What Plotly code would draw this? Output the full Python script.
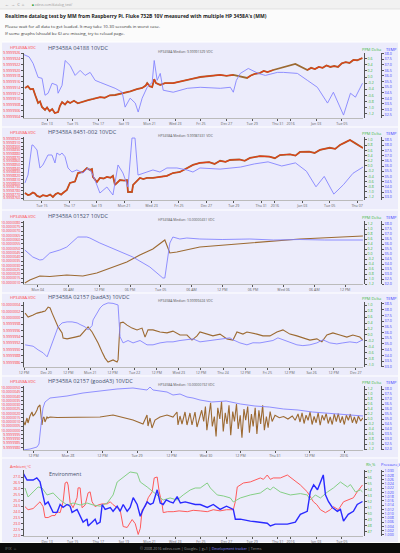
import math
import plotly.graph_objects as go

# ---------------- Panel 1: HP3458A 04188 (x = days since Dec 11) ----------------
P1_VDC = [(0.28,-0.36),(0.5,-0.30),(0.7,-0.40),(0.91,-0.39),(1.1,-0.62),(1.3,-0.85),(1.45,-0.80),(1.6,-0.98),
          (1.84,-1.08),(2.0,-1.0),(2.2,-1.12),(2.4,-1.05),(2.6,-1.18),(2.86,-1.15),(3.0,-0.95),(3.17,-0.82),
          (3.4,-0.9),(3.6,-0.8),(3.8,-0.85),(4.1,-0.78),(4.4,-0.86),(4.8,-0.8),(5.2,-0.76),(5.6,-0.72),
          (6.14,-0.66),(6.5,-0.68),(6.9,-0.6),(7.31,-0.59),(7.7,-0.55),(8.09,-0.52),(8.5,-0.47),(9.0,-0.40),
          (9.42,-0.36),(9.7,-0.28),(9.81,-0.20),(10.0,-0.30),(10.2,-0.33),(10.36,-0.07),(10.5,-0.2),(10.83,-0.26),
          (11.2,-0.2),(11.84,-0.20),(12.3,-0.15),(12.94,-0.10),(13.4,-0.05),(13.95,0.0),(14.5,0.02),(15.0,0.05),
          (15.5,0.07),(16.0,0.04),(16.53,0.07),(17.6,-0.03),(17.9,0.05),(18.2,0.1),(18.6,0.13),(18.9,0.2),
          (19.2,0.16),(19.65,0.23),(21.37,0.43),(22.31,0.23),(22.6,0.3),(22.9,0.26),(23.2,0.33),(23.5,0.3),
          (23.8,0.38),(24.1,0.33),(24.4,0.36),(24.7,0.33),(25.0,0.45),(25.3,0.49),(25.6,0.46),(25.9,0.56),
          (26.2,0.55),(26.6,0.62)]
P1_TEMP = [(0.2,37.9),(0.6,37.7),(0.91,37.12),(1.3,35.88),(1.61,35.79),(1.84,34.28),(2.08,34.46),(2.39,35.35),
           (2.78,35.17),(2.86,34.46),(3.17,35.17),(3.41,37.38),(3.8,36.94),(4.19,36.05),(4.58,36.5),(4.97,36.05),
           (5.36,36.32),(5.75,35.61),(6.14,35.43),(6.69,35.17),(7.31,34.9),(7.86,34.55),(8.09,33.22),(8.48,34.02),
           (8.88,33.58),(9.11,32.78),(9.42,34.02),(9.81,34.99),(10.2,35.43),(10.36,37.38),(10.59,35.61),(10.83,36.23),
           (11.06,34.73),(11.84,34.55),(12.94,34.9),(13.95,34.99),(15.52,34.9),(16.3,34.99),(16.53,34.55),(16.77,35.61),
           (17.08,36.23),(17.7,36.67),(18.48,36.23),(19.03,36.05),(19.97,36.32),(20.44,36.32),(21.53,36.23),(22.31,35.61),
           (23.09,34.99),(23.88,33.58),(24.34,34.55),(25.13,32.51),(25.67,34.46),(26.06,34.11),(26.61,35.35)]

# ---------------- Panel 2: HP3458A 8451-002 (x = days since Dec 13) ----------------
P2_VDC = [(0.76,-1.04),(0.98,-1.12),(1.12,-1.1),(1.34,-1.02),(1.49,-1.06),(1.64,-1.15),(1.85,-1.19),(2.07,-1.12),
          (2.36,-1.16),(2.6,-1.1),(2.8,-1.19),(3.0,-1.08),(3.17,-1.04),(3.4,-1.1),(3.53,-1.04),(3.82,-0.92),
          (4.04,-0.65),(4.41,-0.6),(4.63,-0.27),(4.99,-0.23),(5.28,-0.08),(5.5,-0.15),(5.65,-0.12),(5.72,-0.42),
          (6.01,-0.62),(6.23,-0.46),(6.5,-0.48),(6.74,-0.42),(7.0,-0.45),(7.18,-0.38),(7.33,-0.73),(7.69,-0.54),
          (8.0,-0.56),(8.2,-0.54),(8.28,-1.0),(8.57,-1.0),(8.65,-0.73),(9.15,-0.46),(9.4,-0.5),(9.66,-0.46),
          (10.1,-0.46),(10.4,-0.42),(10.61,-0.42),(11.12,-0.38),(11.56,-0.27),(12.07,-0.23),(12.58,-0.08),(13.02,0.04),
          (13.53,0.12),(14.2,0.15),(14.6,0.08),(15.0,0.2),(15.4,0.16),(15.72,0.23),(16.4,0.25),(16.8,0.2),
          (17.18,0.31),(17.91,0.38),(18.6,0.36),(19.0,0.3),(19.37,0.42),(20.1,0.45),(20.5,0.4),(20.83,0.54),
          (21.5,0.55),(21.9,0.5),(22.29,0.62),(23.0,0.7),(23.4,0.66),(23.75,0.81),(24.1,0.9),(24.48,1.0),
          (24.85,0.88),(25.43,0.69)]
P2_TEMP = [(0.76,34.37),(0.98,35.13),(1.27,38.02),(1.34,38.02),(1.64,37.54),(1.85,35.81),(2.07,36.1),(2.44,37.06),
           (2.73,37.06),(2.95,36.29),(3.09,37.25),(3.31,37.06),(3.46,37.25),(3.68,36.9),(3.9,35.81),(4.19,35.42),
           (4.55,35.62),(4.99,35.33),(5.36,35.81),(5.65,35.33),(5.87,34.65),(6.23,33.4),(6.74,33.98),(7.18,33.21),
           (7.55,36.1),(7.91,35.33),(8.28,33.98),(8.57,38.69),(8.79,38.69),(9.01,35.13),(9.66,35.42),(10.1,35.62),
           (10.61,35.42),(11.12,35.81),(11.85,35.81),(12.58,35.62),(13.02,35.42),(13.53,35.81),(15.0,35.7),(16.5,35.9),
           (17.5,36.2),(18.5,36.4),(19.5,36.0),(20.5,36.3),(21.3,35.5),(22.0,34.0),(22.6,35.0),(23.3,33.3),
           (24.0,34.2),(24.7,35.3),(25.43,35.9)]

# ---------------- Panel 3: HP3458A 01527 (x = hours since Mon Jan 04) ----------------
P3_VDC = [(-2.54,-1.16),(-1.56,-1.04),(0.39,-0.88),(2.34,-0.9),(5.66,-0.84),(8.79,-0.88),(11.52,-0.76),
          (14.06,-0.56),(17.38,-0.32),(19.92,-0.04),(22.46,0.2),(24.8,0.56),(25.78,0.04),(27.15,0.08),
          (29.1,0.16),(31.64,0.28),(41.4,0.44),(51.17,0.6),(63.48,0.72)]
P3_TEMP = [(-2.54,35.4),(-0.98,34.7),(0.39,34.4),(0.98,34.45),(2.34,35.1),(4.3,35.4),(5.66,35.7),(6.84,36.2),
           (7.81,36.7),(9.57,36.7),(10.16,36.6),(12.11,36.1),(15.43,35.4),(18.55,34.7),(21.88,33.7),(24.41,32.6),
           (24.8,32.6),(25.78,36.1),(26.37,36.7),(27.73,36.5),(29.1,36.6),(31.64,36.5),(36.0,36.45),(41.4,36.5),
           (46.0,36.4),(51.17,36.45),(56.0,36.4),(63.48,36.4)]

# ---------------- Panel 4: HP3458A 02157 badA3 (x = hours since Dec 20) ----------------
P4_VDC = [(-11.4,0.73),(-9.76,0.6),(-7.05,0.67),(-4.88,0.73),(-2.17,0.77),(-0.54,0.8),(1.08,0.93),(2.17,0.9),
          (3.25,0.73),(4.88,0.5),(6.5,0.27),(8.67,0.07),(9.21,-0.1),(11.38,-0.13),(13.0,-0.1),(15.72,-0.07),
          (18.43,-0.03),(20.05,0.07),(21.14,0.17),(22.76,0.27),(24.93,0.1),(26.56,-0.07),(28.18,-0.27),(30.35,-0.57),
          (31.98,-0.77),(33.6,-0.9),(36.31,-0.83),(38.48,-0.9),(39.02,-0.83),(40.11,0.4),(41.73,0.43),(43.9,0.33),
          (46.61,0.23),(49.32,0.17),(52.03,0.23),(53.66,-0.07),(55.28,0.17),(57.99,0.17),(61.79,0.1),(65.58,0.07),
          (68.83,0.13),(72.63,0.0),(76.42,0.0),(79.13,-0.17),(81.84,-0.03),(83.47,0.1),(87.26,0.03),(90.51,-0.03),
          (94.31,0.03),(98.1,-0.13),(101.36,-0.17),(103.52,0.1),(106.78,0.03),(108.94,0.1),(114.36,0.03),(117.62,-0.03),
          (121.41,-0.03),(125.2,0.1),(128.46,0.17),(132.25,0.03),(136.04,-0.03),(139.3,-0.1),(143.09,-0.17),(146.88,-0.13),
          (149.59,-0.23),(152.3,0.0),(155.56,0.07),(159.35,0.0),(163.14,-0.07),(166.4,0.0),(170.19,-0.07),(171.82,-0.17)]
P4_TEMP = [(-11.4,34.92),(-7.05,34.8),(-4.34,34.48),(-1.63,34.22),(0.54,33.87),(2.17,34.6),(3.79,35.36),(6.5,36.49),
           (8.67,36.84),(11.38,36.93),(14.09,36.93),(16.8,36.84),(18.43,36.7),(21.14,36.49),(22.76,36.23),(24.93,36.6),
           (25.47,37.1),(27.64,37.71),(29.27,38.15),(30.89,38.41),(33.6,38.59),(36.31,38.55),(39.02,38.41),(40.11,35.62),
           (41.73,35.09),(44.44,35.3),(47.15,35.09),(50.95,35.3),(54.74,34.92),(57.99,34.92),(61.79,35.09),(65.58,35.18),
           (68.83,35.18),(72.63,35.3),(76.42,35.36),(79.67,35.44),(83.47,35.18),(88.89,35.3),(94.31,35.44),(99.73,35.53),
           (101.36,35.36),(105.15,35.09),(108.94,34.92),(112.2,35.1),(115.99,35.09),(119.78,35.18),(123.04,35.3),(125.75,35.53),
           (128.46,35.36),(132.25,35.09),(136.04,34.92),(139.3,34.85),(143.09,34.92),(146.88,35.09),(150.14,35.36),(153.93,35.09),
           (157.72,35.0),(160.98,35.09),(164.77,35.18),(168.56,35.1),(171.82,35.36)]

# ---------------- Panel 5: HP3458A 02157 goodA3 (x = hours since Dec 28) ----------------
P5_VDC = [(-15.65,-0.04),(-14.96,-0.24),(-14.26,0.04),(-13.91,-0.16),(-13.22,0.12),(-12.52,0.28),(-12.17,0.12),
          (-11.48,0.2),(-10.78,0.36),(-10.43,0.48),(-9.74,0.56),(-9.39,0.16),(-9.04,-0.24),(-8.7,0.04),(-8.35,0.08),
          (-8.0,-0.12),(-7.3,0.08),(-6.96,0.04),(-6.26,0.08),(-3.83,0.06),(-0.35,0.07),(5.22,0.07),(11.13,0.08),
          (15.65,0.16),(18.09,0.08),(22.61,-0.04),(26.09,-0.2),(27.48,0.16),(27.83,-0.28),(28.52,0.04),(29.22,-0.36),
          (30.26,-0.04),(32.0,0.08),(34.43,0.16),(36.52,0.08),(37.91,0.28),(38.26,-0.24),(38.96,0.12),(39.65,-0.2),
          (40.7,0.28),(41.39,-0.24),(42.43,0.24),(43.13,-0.24),(44.17,0.28),(44.87,-0.32),(45.91,0.12),
          (46.5,0.35),(47.2,-0.1),(47.8,0.5),(48.3,-0.45),(49.0,0.2),(49.6,0.65),(50.2,-0.3),(50.9,0.1),
          (51.5,-0.7),(52.1,0.45),(52.8,0.0),(53.4,0.7),(54.0,-0.5),(54.7,0.25),(55.3,-0.2),(56.0,0.55),
          (56.6,-0.65),(57.3,0.3),(57.9,-0.1),(58.6,0.6),(59.2,-0.4),(59.9,0.15),(60.5,-0.75),(61.2,0.4),
          (61.8,-0.05),(62.5,0.5),(63.1,-0.55),(63.8,0.2),(64.4,-0.3),(65.1,0.45),(65.7,-0.6),(66.4,0.35),
          (67.0,-0.2),(67.7,0.55),(68.3,-0.45),(69.0,0.1),(69.6,-0.35),(70.3,0.3),(71.0,-0.1),(72.0,0.15),
          (73.5,0.05),(75.0,0.1),(76.5,0.0),(78.0,0.12),(79.0,-0.05),(80.0,0.2),(80.7,-0.12),(81.4,0.25),
          (82.1,-0.18),(82.8,0.15),(83.5,-0.05),(84.2,0.28),(84.9,-0.22),(85.6,0.1),(86.3,-0.15),(87.0,0.25),
          (87.7,-0.25),(88.4,0.15),(89.1,-0.05),(89.8,0.22),(90.5,-0.18),(91.2,0.08),(91.9,-0.22),(92.6,0.2),
          (93.3,-0.1),(94.0,0.22),(94.7,-0.15),(95.4,0.1),(96.1,-0.22),(96.8,0.15),(97.5,-0.05),(98.2,0.2),
          (98.9,-0.15),(99.6,0.08),(100.3,-0.18),(101.0,0.12),(101.8,-0.08),(102.6,0.05)]
P5_TEMP = [(-15.65,31.9),(-13.22,32.0),(-10.78,32.2),(-10.09,32.5),(-9.39,34.4),(-8.7,36.1),(-8.0,36.7),(-6.96,37.0),
           (-6.26,37.1),(-0.35,37.3),(5.22,37.6),(11.13,37.8),(17.04,38.0),(22.61,38.1),(27.48,37.9),(28.52,38.2),
           (29.57,37.9),(32.0,37.8),(34.43,37.7),(36.52,37.4),(38.96,37.5),(41.39,37.2),(43.48,37.1),(45.91,36.9),
           (50.0,36.7),(55.0,36.8),(60.0,36.5),(65.0,36.3),(70.0,36.2),(75.0,36.0),(80.0,35.9),(85.0,35.7),
           (90.0,35.6),(95.0,35.5),(100.0,35.4),(102.6,35.3)]

# ---------------- Panel 6: Environment (x = days since Dec 11) ----------------
ENV_AMBIENT = [(0.28,24.46),(0.52,24.2),(0.91,24.3),(1.2,24.63),(1.45,24.88),(1.69,24.46),(1.84,23.53),(2.08,23.53),
               (2.39,23.7),(2.62,23.7),(2.78,24.03),(3.02,23.95),(3.25,24.88),(3.41,26.49),(3.56,26.58),(3.64,26.32),
               (3.8,24.8),(4.03,24.37),(4.34,25.22),(4.42,26.07),(4.58,26.07),(4.73,24.37),(4.97,24.6),(5.2,25.64),
               (5.36,25.73),(5.51,24.88),(5.75,24.46),(5.98,24.6),(6.3,24.7),(6.69,24.7),(6.93,24.88),(7.15,24.63),
               (7.47,24.37),(7.7,24.2),(7.94,22.76),(8.25,22.68),(8.64,23.36),(8.88,23.0),(9.11,22.08),(9.27,22.6),
               (9.42,24.2),(9.66,24.46),(9.89,25.22),(10.2,25.73),(10.36,26.92),(10.59,27.0),(10.75,25.73),(10.98,24.63),
               (11.06,23.95),(11.4,24.03),(11.84,24.03),(12.3,24.1),(12.94,24.03),(13.4,24.15),(13.95,24.1),(14.5,24.03),
               (14.97,24.2),(15.5,24.1),(16.0,24.2),(16.53,24.2),(16.69,24.9),(16.84,26.15),(17.32,26.49),(17.86,26.58),
               (18.64,26.92),(18.88,26.8),(19.18,27.17),(19.42,26.8),(19.65,26.92),(20.2,26.92),(20.75,27.17),(21.22,26.8),
               (21.76,26.32),(22.3,25.73),(22.78,24.88),(23.05,24.63),(23.33,24.2),(23.72,23.95),(24.1,24.2),(24.34,24.46),
               (24.73,24.2),(25.13,24.88),(25.5,25.05),(25.9,25.22),(26.2,25.73),(26.61,26.32)]
ENV_RH = [(0.28,54.33),(0.52,52.83),(0.91,53.67),(1.3,54.5),(1.61,54.33),(2.0,53.17),(2.47,53.5),(3.02,52.33),
          (3.56,51.5),(4.03,51.83),(4.58,51.5),(5.12,51.83),(5.59,51.5),(6.14,51.3),(6.69,51.83),(7.15,53.17),
          (7.47,55.33),(7.94,56.17),(8.48,57.0),(9.03,56.8),(9.27,55.33),(9.81,54.5),(10.28,53.67),(10.83,52.67),
          (11.06,52.33),(11.6,52.67),(12.15,52.33),(12.62,53.17),(13.17,54.0),(13.56,54.33),(13.95,54.33),(14.5,55.17),
          (14.74,54.33),(15.28,53.17),(15.76,53.0),(16.3,52.67),(16.53,52.0),(17.08,52.67),(17.86,53.17),(18.64,53.5),
          (19.18,54.33),(19.42,54.0),(19.65,54.5),(20.2,53.67),(20.98,53.17),(21.76,53.4),(22.3,53.17),(22.54,52.33),
          (22.93,53.17),(23.33,52.67),(23.88,53.67),(24.34,54.33),(24.89,55.33),(25.44,54.5),(25.67,54.9),(26.06,53.67),
          (26.45,54.0),(26.61,53.67)]
ENV_PRESSURE = [(0.12,1.0291),(0.44,1.0258),(0.91,1.0258),(1.2,1.0268),(1.45,1.0249),(1.61,1.0203),(1.84,1.0143),
                (2.08,1.0155),(2.47,1.0106),(2.78,1.0106),(3.02,1.0143),(3.25,1.0130),(3.56,1.0143),(3.8,1.0135),
                (3.95,1.0106),(4.34,1.0120),(4.58,1.0088),(4.81,1.006),(5.12,1.0075),(5.2,1.0042),(5.51,1.006),
                (5.75,1.0074),(5.9,1.0051),(6.14,1.006),(6.3,1.0143),(6.53,1.0120),(6.93,1.0129),(7.15,1.0111),
                (7.47,1.0135),(7.7,1.0111),(7.94,1.0143),(8.25,1.0111),(8.48,1.0129),(8.72,1.0175),(9.03,1.0143),
                (9.27,1.0088),(9.5,1.0120),(9.81,1.0155),(10.05,1.0143),(10.28,1.0150),(10.59,1.0212),(10.83,1.0150),
                (11.06,1.0143),(11.3,1.0165),(11.6,1.0155),(11.84,1.0150),(12.15,1.0180),(12.4,1.0150),(12.78,1.0155),
                (13.17,1.0150),(13.56,1.0143),(13.95,1.0143),(14.5,1.0129),(14.97,1.0143),(15.5,1.0120),(16.0,1.0135),
                (16.53,1.0120),(16.69,1.0074),(17.08,1.0074),(17.86,1.0065),(18.64,1.006),(19.18,1.0055),(19.42,1.0042),
                (19.8,1.0051),(20.75,1.0051),(21.37,1.006),(21.76,1.0097),(22.3,1.0111),(22.54,1.0203),(22.8,1.0235),
                (23.1,1.0212),(23.33,1.0249),(23.55,1.0282),(23.72,1.0189),(23.95,1.0157),(24.26,1.0129),(24.65,1.0111),
                (24.89,1.0120),(25.13,1.0065),(25.5,1.0097),(25.9,1.0111),(26.2,1.0143),(26.61,1.0157)]

# ---------------- tick labels ----------------
DAY_TICKS_A = [2, 4, 6, 8, 10, 12, 14, 16, 18, 20, 21, 23, 25]
DAY_TEXT_A = ['Dec 13', 'Tue 15', 'Thu 17', 'Sat 19', 'Mon 21', 'Wed 23', 'Fri 25', 'Dec 27', 'Tue 29',
              'Thu 31', '2016', 'Jan 03', 'Tue 05']
DAY_TICKS_B = [2, 4, 6, 8, 10, 12, 14, 16, 18, 19, 21, 23, 25]
DAY_TEXT_B = ['Tue 15', 'Thu 17', 'Sat 19', 'Mon 21', 'Wed 23', 'Fri 25', 'Dec 27', 'Tue 29', 'Thu 31',
              '2016', 'Jan 03', 'Tue 05', 'Thu 07']
HOUR_TICKS_3 = [0, 6, 12, 18, 24, 30, 36, 42, 48, 54, 60]
HOUR_TEXT_3 = ['Mon 04', '06 AM', '12 PM', '06 PM', 'Tue 05', '06 AM', '12 PM', '06 PM', 'Wed 06', '06 AM', '12 PM']
HOUR_TICKS_4 = [-12, 0, 12, 24, 36, 48, 60, 72, 84, 96, 108, 120, 132, 144, 156, 168]
HOUR_TEXT_4 = ['12 PM', 'Dec 20', '12 PM', 'Mon 21', '12 PM', 'Tue 22', '12 PM', 'Wed 23', '12 PM', 'Thu 24',
               '12 PM', 'Fri 25', '12 PM', 'Sat 26', '12 PM', 'Dec 27']
HOUR_TICKS_5 = [-12, 0, 12, 24, 36, 48, 60, 72, 84, 96]
HOUR_TEXT_5 = ['12 PM', 'Mon 28', '12 PM', 'Tue 29', '12 PM', 'Wed 30', '12 PM', 'Thu 31', '12 PM', '2016']

# ---------------- geometry helpers ----------------
W, H = 400, 553
FONT = 'Open Sans'
LAV = '#ececfb'
BROWN = '#9c6a32'
REDDOT = '#e0401a'
TEMPBLUE = '#8585ff'
LRED = '#ff3b3b'
GREEN = '#3cb83c'
BLUE = '#3a3aff'


def fx(px):
    return px / W


def fy(py):
    return 1 - py / H


def unzip(pts):
    return [p[0] for p in pts], [p[1] for p in pts]


def split_gaps(xs, ys, maxgap):
    ox, oy = [], []
    for i, (a, b) in enumerate(zip(xs, ys)):
        if i and a - xs[i - 1] > maxgap:
            ox.append(None)
            oy.append(None)
        ox.append(a)
        oy.append(b)
    return ox, oy


def ticks_in(rng, step, decimals, top=None):
    """Tick values/labels inside an axis range (works for sub-ppm steps near 10 V)."""
    lo, hi = rng
    if top is not None:
        hi = min(hi, top)
    k = math.ceil(lo / step - 1e-6)
    vals, texts = [], []
    while k * step <= hi + 1e-12:
        v = round(k * step, 10)
        vals.append(v)
        texts.append(f'{v:.{decimals}f}')
        k += 1
    return vals, texts


PANELS = [
    dict(box=(42, 127), plot=(53, 118), ttl_y=48, left='HP3458A.VDC', title='HP3458A 04188 10VDC',
         median='HP3458A Median: 9.99991329 VDC', xr=[0.2, 26.65], tv=DAY_TICKS_A, tt=DAY_TEXT_A,
         lr=[9.99999035, 9.9999926], ldt=2e-7, ldec=7, ltop=None, gr=[-1.344, 0.787], gdt=0.2, gdec=1,
         br=[32.25, 38.05], bdt=0.5, bdec=1, r1='PPM Delta', r2='TEMP', rt_y=50,
         series=[(P1_VDC, 'g', 'vdc'), (P1_TEMP, 'b', 'temp')], red=True, gap=0.9),
    dict(box=(127, 210), plot=(137, 200), ttl_y=132, left='HP3458A.VDC', title='HP3458A 8451-002 10VDC',
         median='HP3458A Median: 9.99987431 VDC', xr=[0.69, 25.43], tv=DAY_TICKS_B, tt=DAY_TEXT_B,
         lr=[9.9998755, 9.9998925], ldt=1e-6, ldec=7, ltop=None, gr=[-1.308, 1.115], gdt=0.2, gdec=1,
         br=[32.73, 38.79], bdt=0.5, bdec=1, r1='PPM Delta', r2='TEMP', rt_y=133.5,
         series=[(P2_VDC, 'g', 'vdc'), (P2_TEMP, 'b', 'temp')], red=True, gap=0.9),
    dict(box=(210, 293), plot=(221, 284), ttl_y=216, left='HP3458A.VDC', title='HP3458A 01527 10VDC',
         median='HP3458A Median: 10.00000431 VDC', xr=[-2.7, 63.5], tv=HOUR_TICKS_3, tt=HOUR_TEXT_3,
         lr=[10.0000008, 10.0000082], ldt=5e-7, ldec=7, ltop=None, gr=[-1.2, 1.32], gdt=0.2, gdec=1,
         br=[32.0, 38.3], bdt=0.5, bdec=1, r1='PPM Delta', r2='TEMP', rt_y=217.5,
         series=[(P3_VDC, 'g', 'vdc'), (P3_TEMP, 'b', 'temp')], red=False, gap=0),
    dict(box=(293, 376), plot=(302, 367), ttl_y=297, left='HP3458A.VDC', title='HP3458A 02157 (badA3) 10VDC',
         median='HP3458A Median: 9.99999424 VDC', xr=[-12, 171.9], tv=HOUR_TICKS_4, tt=HOUR_TEXT_4,
         lr=[9.99999845, 10.0000005], ldt=2e-7, ldec=7, ltop=None, gr=[-1.067, 1.1], gdt=0.2, gdec=1,
         br=[32.98, 38.67], bdt=0.5, bdec=1, r1='PPM Delta', r2='TEMP', rt_y=298,
         series=[(P4_VDC, 'g', 'vdc'), (P4_TEMP, 'b', 'temp')], red=False, gap=0),
    dict(box=(376, 458), plot=(386, 450), ttl_y=381, left='HP3458A.VDC', title='HP3458A 02157 (goodA3) 10VDC',
         median='HP3458A Median: 10.00000192 VDC', xr=[-15.3, 102.6], tv=HOUR_TICKS_5, tt=HOUR_TEXT_5,
         lr=[9.9999977, 10.0000052], ldt=5e-7, ldec=7, ltop=None, gr=[-1.24, 1.32], gdt=0.2, gdec=1,
         br=[31.9, 38.3], bdt=0.5, bdec=1, r1='PPM Delta', r2='TEMP', rt_y=382.5,
         series=[(P5_VDC, 'g', 'vdc'), (P5_TEMP, 'b', 'temp')], red=False, gap=0),
    dict(box=(458, 542), plot=(470, 536), ttl_y=466, left='Ambient,°C', title='',
         median='', xr=[0.2, 26.65], tv=DAY_TICKS_A, tt=DAY_TEXT_A,
         lr=[21.95, 27.6], ldt=0.5, ldec=1, ltop=27.0, gr=[46.33, 57.33], gdt=1, gdec=0,
         br=[0.9995, 1.0305], bdt=0.002, bdec=3, r1='Rh,%', r2='Pressure,k', rt_y=464,
         series=[(ENV_RH, 'g', 'rh'), (ENV_AMBIENT, 'l', 'amb'), (ENV_PRESSURE, 'b', 'press')], red=False, gap=0),
]

fig = go.Figure()
layout = dict(width=W, height=H, margin=dict(l=0, r=0, t=0, b=0), paper_bgcolor='#fbfbfb',
              plot_bgcolor='rgba(0,0,0,0)', showlegend=False, font=dict(family=FONT, size=5, color='#444'))
shapes, annotations = [], []

XD = [fx(24), fx(363)]
TICKFONT = 3.6


def yn(n):
    return 'y' if n == 1 else f'y{n}'


def yk(n):
    return 'yaxis' if n == 1 else f'yaxis{n}'


for k, p in enumerate(PANELS, start=1):
    n1, n2, n3 = 3 * k - 2, 3 * k - 1, 3 * k
    xname = 'x' if k == 1 else f'x{k}'
    yd = [fy(p['plot'][1]), fy(p['plot'][0])]
    base = dict(showgrid=False, zeroline=False, ticks='outside', ticklen=2, tickwidth=0.6,
                tickcolor='#555', showline=True, linewidth=0.8, linecolor='#555', fixedrange=True,
                automargin=False)
    layout['xaxis' if k == 1 else f'xaxis{k}'] = dict(
        base, domain=XD, anchor=yn(n1), range=p['xr'], tickmode='array', tickvals=p['tv'], ticktext=p['tt'],
        tickfont=dict(size=TICKFONT, color='#666'), linecolor='#bbb', linewidth=0.6)
    lv, lt = ticks_in(p['lr'], p['ldt'], p['ldec'], p['ltop'])
    gv, gt = ticks_in(p['gr'], p['gdt'], p['gdec'])
    bv, bt = ticks_in(p['br'], p['bdt'], p['bdec'])
    layout[yk(n1)] = dict(
        base, domain=yd, anchor=xname, side='left', range=p['lr'], tickmode='array', tickvals=lv, ticktext=lt,
        tickfont=dict(size=TICKFONT, color=LRED))
    layout[yk(n2)] = dict(
        base, domain=yd, overlaying=yn(n1), anchor='free', position=fx(364), side='right', range=p['gr'],
        tickmode='array', tickvals=gv, ticktext=gt, tickfont=dict(size=TICKFONT, color=GREEN))
    layout[yk(n3)] = dict(
        base, domain=yd, overlaying=yn(n1), anchor='free', position=fx(381), side='right', range=p['br'],
        tickmode='array', tickvals=bv, ticktext=bt, tickfont=dict(size=TICKFONT, color=BLUE))

    # invisible anchor trace so the base (left-axis) subplot exists and its axes are drawn
    fig.add_trace(go.Scatter(x=[p['xr'][0]], y=[p['lr'][0]], xaxis=xname, yaxis=yn(n1), mode='markers',
                             marker=dict(size=1, opacity=0), hoverinfo='skip', showlegend=False))

    # panel background and separator
    shapes.append(dict(type='rect', xref='paper', yref='paper', x0=fx(2), x1=fx(398),
                       y0=fy(p['box'][1]), y1=fy(p['box'][0]), fillcolor=LAV, line=dict(width=0), layer='below'))
    shapes.append(dict(type='line', xref='paper', yref='paper', x0=fx(2), x1=fx(398),
                       y0=fy(p['box'][0]), y1=fy(p['box'][0]), line=dict(color='#ffffff', width=1.2),
                       layer='below'))

    for pts, which, kind in p['series']:
        xs, ys = unzip(pts)
        yref = yn(n2) if which == 'g' else (yn(n3) if which == 'b' else yn(n1))
        if kind == 'vdc':
            fig.add_trace(go.Scatter(x=xs, y=ys, xaxis=xname, yaxis=yref, mode='lines',
                                     line=dict(color=BROWN, width=1.8 if p['red'] else 1.1),
                                     hoverinfo='skip'))
            if p['red']:
                rx, ry = split_gaps(xs, ys, p['gap'])
                fig.add_trace(go.Scatter(x=rx, y=ry, xaxis=xname, yaxis=yref, mode='lines',
                                         line=dict(color=REDDOT, width=1.1), connectgaps=False,
                                         hoverinfo='skip'))
        elif kind == 'temp':
            fig.add_trace(go.Scatter(x=xs, y=ys, xaxis=xname, yaxis=yref, mode='lines',
                                     line=dict(color=TEMPBLUE, width=0.9), hoverinfo='skip'))
        elif kind == 'rh':
            fig.add_trace(go.Scatter(x=xs, y=ys, xaxis=xname, yaxis=yref, mode='lines',
                                     line=dict(color='#85cf85', width=1.0), hoverinfo='skip'))
        elif kind == 'amb':
            fig.add_trace(go.Scatter(x=xs, y=ys, xaxis=xname, yaxis=yref, mode='lines',
                                     line=dict(color='#ff5a5a', width=1.0), hoverinfo='skip'))
        elif kind == 'press':
            fig.add_trace(go.Scatter(x=xs, y=ys, xaxis=xname, yaxis=yref, mode='lines',
                                     line=dict(color='#2a2aff', width=1.4), hoverinfo='skip'))

    # panel texts
    annotations.append(dict(text=p['left'], x=fx(8), y=fy(p['ttl_y']), xref='paper', yref='paper',
                            xanchor='left', yanchor='middle', showarrow=False,
                            font=dict(size=4, color=LRED)))
    if p['title']:
        annotations.append(dict(text=p['title'], x=fx(46), y=fy(p['ttl_y']), xref='paper', yref='paper',
                                xanchor='left', yanchor='middle', showarrow=False,
                                font=dict(size=5.6, color='#44516e')))
    if p['median']:
        annotations.append(dict(text=p['median'], x=fx(156), y=fy(p['ttl_y'] + 3.5), xref='paper', yref='paper',
                                xanchor='left', yanchor='middle', showarrow=False,
                                font=dict(size=3.4, color='#555')))
    annotations.append(dict(text=p['r1'], x=fx(371), y=fy(p['rt_y']), xref='paper', yref='paper',
                            xanchor='center', yanchor='middle', showarrow=False,
                            font=dict(size=4.0, color=GREEN)))
    annotations.append(dict(text=p['r2'], x=fx(391), y=fy(p['rt_y']), xref='paper', yref='paper',
                            xanchor='center', yanchor='middle', showarrow=False,
                            font=dict(size=4.0, color=BLUE)))

# Environment label
annotations.append(dict(text='Environment', x=fx(47), y=fy(474), xref='paper', yref='paper', xanchor='left',
                        yanchor='middle', showarrow=False, font=dict(size=5.4, color='#44516e')))

# ---------------- page header ----------------
shapes.append(dict(type='rect', xref='paper', yref='paper', x0=0, x1=1, y0=fy(9), y1=1,
                   fillcolor='#f1f1f1', line=dict(width=0), layer='below'))
shapes.append(dict(type='line', xref='paper', yref='paper', x0=0, x1=1, y0=fy(9), y1=fy(9),
                   line=dict(color='#d4d4d4', width=0.6), layer='below'))
annotations.append(dict(text='←  →  C  ⌂', x=fx(3), y=fy(4.5), xref='paper', yref='paper', xanchor='left',
                        yanchor='middle', showarrow=False, font=dict(size=4, color='#888')))
annotations.append(dict(text='<span style="color:#2e9e2e">■</span> xdevs.com/datalog_test/', x=fx(30),
                        y=fy(4.5), xref='paper', yref='paper', xanchor='left', yanchor='middle',
                        showarrow=False, font=dict(size=3.3, color='#999')))
annotations.append(dict(text="<b>Realtime datalog test by MM from Raspberry Pi. Fluke 732B 10V measured with multiple HP 3458A's (MM)</b>",
                        x=fx(3), y=fy(16), xref='paper', yref='paper', xanchor='left', yanchor='middle',
                        showarrow=False, font=dict(size=5.0, color='#222')))
annotations.append(dict(text='Please wait for all data to get loaded. It may take 10-30 seconds in worst case.',
                        x=fx(3), y=fy(25.5), xref='paper', yref='paper', xanchor='left', yanchor='middle',
                        showarrow=False, font=dict(size=4.3, color='#333')))
annotations.append(dict(text='If some graphs (should be 6) are missing, try to reload page.',
                        x=fx(3), y=fy(32.5), xref='paper', yref='paper', xanchor='left', yanchor='middle',
                        showarrow=False, font=dict(size=4.3, color='#333')))

# ---------------- footer ----------------
shapes.append(dict(type='rect', xref='paper', yref='paper', x0=0, x1=1, y0=0, y1=fy(543),
                   fillcolor='#0b0b0b', line=dict(width=0), layer='below'))
annotations.append(dict(text='IFIX  ⌂', x=fx(3), y=fy(548), xref='paper', yref='paper', xanchor='left',
                        yanchor='middle', showarrow=False, font=dict(size=4, color='#777')))
annotations.append(dict(text='© 2008-2016 xdevs.com | Google+ | g+1 | <span style="color:#8a8aff">Development tracker</span> | Terms',
                        x=fx(201), y=fy(548.5), xref='paper', yref='paper', xanchor='center', yanchor='middle',
                        showarrow=False, font=dict(size=3.6, color='#999')))

layout['shapes'] = shapes
layout['annotations'] = annotations
fig.update_layout(**layout)
fig.write_html('out.html')
